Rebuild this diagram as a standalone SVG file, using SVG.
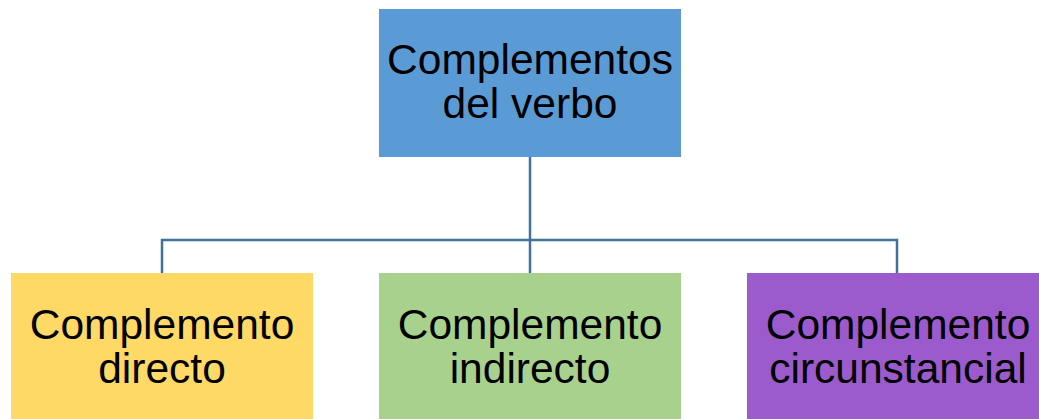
<svg xmlns="http://www.w3.org/2000/svg" width="1039" height="419" viewBox="0 0 1039 419">
<style>
.lbl{font-family:"Liberation Sans",Arial,sans-serif;font-size:42.5px;fill:#000;text-anchor:middle}
.conn{fill:none;stroke:#41719C;stroke-width:2.5}
</style>
<rect width="1039" height="419" fill="#fff"/>
<g id="connectors">
<path class="conn" d="M530 157 V240"/>
<path class="conn" d="M162 273 V240 H897 V273"/>
<path class="conn" d="M530 240 V273"/>
</g>
<g id="root">
<rect x="379" y="9" width="302" height="148" fill="#5B9BD5"/>
<text class="lbl" x="530" y="74">Complementos</text>
<text class="lbl" x="530" y="118">del verbo</text>
</g>
<g id="directo">
<rect x="11" y="273" width="302" height="150" fill="#FFD966"/>
<text class="lbl" x="162" y="339">Complemento</text>
<text class="lbl" x="162" y="383">directo</text>
</g>
<g id="indirecto">
<rect x="379" y="273" width="302" height="150" fill="#A9D18E"/>
<text class="lbl" x="530" y="339">Complemento</text>
<text class="lbl" x="530" y="383">indirecto</text>
</g>
<g id="circunstancial">
<rect x="747" y="273" width="302" height="150" fill="#9C5BCD"/>
<text class="lbl" x="898" y="339">Complemento</text>
<text class="lbl" x="898" y="383">circunstancial</text>
</g>
</svg>
